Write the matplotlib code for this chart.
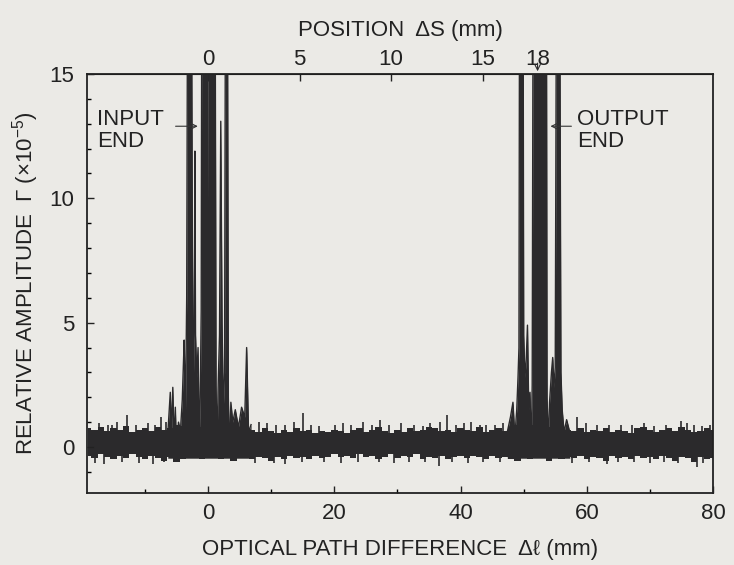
import matplotlib
matplotlib.use("Agg")
import matplotlib.pyplot as plt
import numpy as np

# 字体
plt.rcParams['font.family'] = ['Liberation Sans', 'DejaVu Sans']
plt.rcParams['mathtext.fontset'] = 'custom'
plt.rcParams['mathtext.rm'] = 'Liberation Sans'

ink = '#2b2a2c'
paper = '#ebeae6'

# ---- data ----
# noise band, sampled every 1 mm from -19 to 80
env_x = np.arange(-19, 81, 1.0)
env_hi = [0.75, 0.70, 0.80, 0.65, 0.75, 0.70, 0.85, 0.60, 0.70, 0.75,
          0.65, 0.80, 0.70, 0.75, 0.90, 0.85, 1.00, 0.90, 0.80, 0.70,
          0.80, 0.90, 0.85, 0.95, 0.80, 0.75, 0.70, 0.60, 0.75, 0.65,
          0.55, 0.70, 0.60, 0.75, 0.65, 0.70, 0.55, 0.65, 0.60, 0.70,
          0.65, 0.55, 0.70, 0.75, 0.60, 0.70, 0.80, 0.65, 0.55, 0.70,
          0.60, 0.75, 0.65, 0.70, 0.80, 0.75, 0.65, 0.70, 0.60, 0.75,
          0.70, 0.65, 0.80, 0.60, 0.70, 0.75, 0.65, 0.80, 0.90, 0.95,
          0.90, 0.85, 0.90, 0.80, 0.85, 0.75, 0.70, 0.65, 0.75, 0.60,
          0.70, 0.65, 0.75, 0.60, 0.70, 0.65, 0.55, 0.75, 0.80, 0.70,
          0.60, 0.70, 0.75, 0.65, 0.80, 0.70, 0.60, 0.65, 0.75, 0.70]
env_lo = [-0.35, -0.45, -0.30, -0.40, -0.50, -0.35, -0.45, -0.30, -0.40, -0.50,
          -0.35, -0.45, -0.55, -0.40, -0.60, -0.50, -0.40, -0.45, -0.50, -0.40,
          -0.45, -0.50, -0.40, -0.55, -0.45, -0.35, -0.50, -0.40, -0.45, -0.55,
          -0.40, -0.50, -0.35, -0.45, -0.40, -0.50, -0.35, -0.45, -0.40, -0.30,
          -0.40, -0.35, -0.45, -0.30, -0.40, -0.35, -0.50, -0.40, -0.30, -0.45,
          -0.35, -0.40, -0.30, -0.50, -0.40, -0.45, -0.35, -0.50, -0.40, -0.35,
          -0.45, -0.35, -0.40, -0.50, -0.35, -0.45, -0.40, -0.50, -0.55, -0.45,
          -0.50, -0.40, -0.45, -0.55, -0.45, -0.50, -0.40, -0.45, -0.35, -0.50,
          -0.40, -0.45, -0.55, -0.35, -0.45, -0.40, -0.50, -0.35, -0.45, -0.40,
          -0.50, -0.35, -0.45, -0.55, -0.40, -0.45, -0.60, -0.40, -0.50, -0.45]

# small spikes on the noise band
up_x = [-17.3, -15.9, -15.2, -14.4, -12.8, -11.5, -9.6, -8.4, -7.4, -6.6,
        8.0, 9.3, 10.7, 12.2, 13.6, 15.0, 16.3, 17.6, 20.1, 21.4,
        22.7, 24.6, 26.0, 27.2, 28.6, 30.5, 32.6, 34.0, 35.2, 36.8,
        37.9, 39.2, 40.6, 41.6, 43.0, 44.0, 45.4, 46.8, 58.4, 59.8,
        61.6, 63.5, 65.4, 67.2, 69.0, 70.7, 72.6, 74.9, 75.8, 77.0,
        78.2, 79.6]
up_y = [0.95, 0.90, 0.90, 1.00, 1.30, 0.90, 0.95, 0.90, 1.20, 1.00,
        1.00, 0.95, 0.90, 0.90, 1.00, 1.35, 0.90, 0.85, 0.90, 0.95,
        0.90, 1.00, 0.90, 1.10, 0.90, 0.95, 0.90, 0.85, 0.95, 1.00,
        1.30, 0.90, 0.95, 1.00, 0.90, 0.90, 0.90, 0.95, 1.20, 0.95,
        0.90, 0.90, 0.90, 0.90, 0.95, 0.85, 0.90, 1.05, 0.95, 0.90,
        0.85, 0.90]
down_x = [-18.0, -16.5, -13.6, -11.0, -8.8, -7.0, 7.5, 10.5, 12.1, 14.8,
          18.4, 21.0, 23.8, 27.0, 29.5, 31.8, 34.4, 36.6, 38.7, 41.2,
          43.5, 46.2, 57.6, 60.3, 63.2, 65.0, 67.5, 70.0, 72.2, 74.4,
          77.4, 78.4]
down_y = [-0.65, -0.70, -0.60, -0.65, -0.70, -0.60, -0.65, -0.65, -0.70, -0.60,
          -0.60, -0.65, -0.60, -0.60, -0.65, -0.60, -0.62, -0.75, -0.60, -0.65,
          -0.60, -0.60, -0.65, -0.60, -0.70, -0.60, -0.60, -0.65, -0.60, -0.65,
          -0.80, -0.65]

# reflection peaks (values above 15 are off scale)
in_x = [-6.4, -6.0, -5.8, -5.6, -5.4, -5.2, -5.0, -4.7, -4.4, -4.1,
        -3.9, -3.8, -3.6, -3.4, -3.25, -2.65, -2.5, -2.35, -2.2, -2.1,
        -2.0, -1.8, -1.6, -1.4, -1.25, -1.1, -1.0, -0.25, -0.15, 0.0,
        1.1, 1.25, 1.4, 1.6, 1.8, 2.0, 2.2, 2.4, 2.6, 2.75,
        3.05, 3.2, 3.4, 3.6, 3.9, 4.3, 4.8, 5.3, 5.8, 6.1,
        6.4, 6.8]
in_y = [0.5, 2.2, 0.6, 2.4, 0.2, 1.6, -0.3, 1.0, 0.6, 1.9,
        3.5, 4.3, 1.2, 6.0, 20, 20, 8.0, 2.5, 5.0, 11.9,
        4.5, 2.8, 4.0, 0.3, 2.0, 5.5, 20, 20, 5.0, 20,
        20, 2.5, 0.0, 2.6, 4.5, 13.1, 5.0, 1.5, 3.0, 20,
        20, 2.0, -0.2, 1.8, 1.0, 1.5, 0.8, 1.6, 1.2, 4.0,
        0.6, 0.9]
out_x = [47.4, 47.9, 48.3, 48.6, 48.9, 49.1, 49.25, 49.35, 49.9, 50.0,
         50.2, 50.4, 50.6, 50.8, 51.0, 51.2, 51.35, 51.5, 53.6, 53.7,
         53.9, 54.1, 54.4, 54.6, 54.8, 55.0, 55.2, 55.7, 55.9, 56.1,
         56.4, 56.8, 57.3]
out_y = [0.6, 1.2, 1.8, 0.4, 1.5, 2.8, 4.0, 20, 20, 4.5,
         2.8, 3.5, 4.9, 1.5, 2.2, -0.3, 2.5, 20, 20, 2.0,
         0.2, 1.8, 3.0, 3.6, 2.4, 3.2, 20, 20, 3.0, 1.5,
         0.6, 1.1, 0.6]

xticks = [0, 20, 40, 60, 80]
yticks = [0, 5, 10, 15]
top_ticks = [0, 5, 10, 15, 18]
scale = 2.9  # delta l per delta S

# ---- figure ----
fig = plt.figure(figsize=(7.34, 5.65), dpi=100, facecolor=paper)
ax = fig.add_axes([0.1185, 0.1274, 0.8529, 0.7416], facecolor=paper)
ax.set_xlim(-19.2, 80)
ax.set_ylim(-1.85, 15)

ax.fill_between(env_x, env_lo, env_hi, step='mid', color=ink, lw=0)
ax.vlines(up_x, 0.3, up_y, color=ink, lw=1.2)
ax.vlines(down_x, down_y, 0.2, color=ink, lw=1.2)
ax.fill_between(in_x, -0.45, in_y, color=ink, lw=0)
ax.plot(in_x, in_y, color=ink, lw=1)
ax.fill_between(out_x, -0.45, out_y, color=ink, lw=0)
ax.plot(out_x, out_y, color=ink, lw=1)

# 刻度
ax.set_xticks(xticks)
ax.set_xticks([-10, 10, 30, 50, 70], minor=True)
ax.set_yticks(yticks)
ax.set_yticks(np.arange(-1, 15, 1), minor=True)
ax.tick_params(which='major', direction='in', length=5, width=1, labelsize=16, colors='#222222')
ax.tick_params(which='minor', direction='in', length=3, width=1)
ax.tick_params(axis='x', pad=7)
ax.tick_params(axis='y', pad=9)
for s in ax.spines.values():
    s.set_color('#222222')
    s.set_linewidth(1.3)

ax.set_xlabel('OPTICAL PATH DIFFERENCE  Δℓ (mm)', fontsize=16, labelpad=11, color='#222222')
ax.set_ylabel('RELATIVE AMPLITUDE  Γ (×10$^{-5}$)', fontsize=16, labelpad=6, color='#222222')

top = ax.secondary_xaxis('top', functions=(lambda x: x / scale, lambda s: s * scale))
top.set_xticks(top_ticks)
top.tick_params(direction='in', length=5, width=1, labelsize=16, pad=3, colors='#222222')
top.set_xlabel('POSITION  ΔS (mm)', fontsize=16, labelpad=9, color='#222222')

ax.annotate('', xy=(18 * scale, 15), xytext=(18 * scale, 15.55),
            arrowprops=dict(arrowstyle='->', color=ink, lw=0.8), annotation_clip=False)

# labels for the two ends
ax.text(-17.6, 13.6, 'INPUT\nEND', fontsize=16, va='top', ha='left',
        linespacing=1.1, color='#222222')
ax.annotate('', xy=(-1.2, 12.9), xytext=(-5.6, 12.9),
            arrowprops=dict(arrowstyle='->', color='#333333', lw=0.8), zorder=5)
ax.text(58.5, 13.6, 'OUTPUT\nEND', fontsize=16, va='top', ha='left',
        linespacing=1.1, color='#222222')
ax.annotate('', xy=(53.8, 12.9), xytext=(58.0, 12.9),
            arrowprops=dict(arrowstyle='->', color='#333333', lw=0.8), zorder=5)

fig.savefig('out.png', dpi=100, facecolor=paper)
